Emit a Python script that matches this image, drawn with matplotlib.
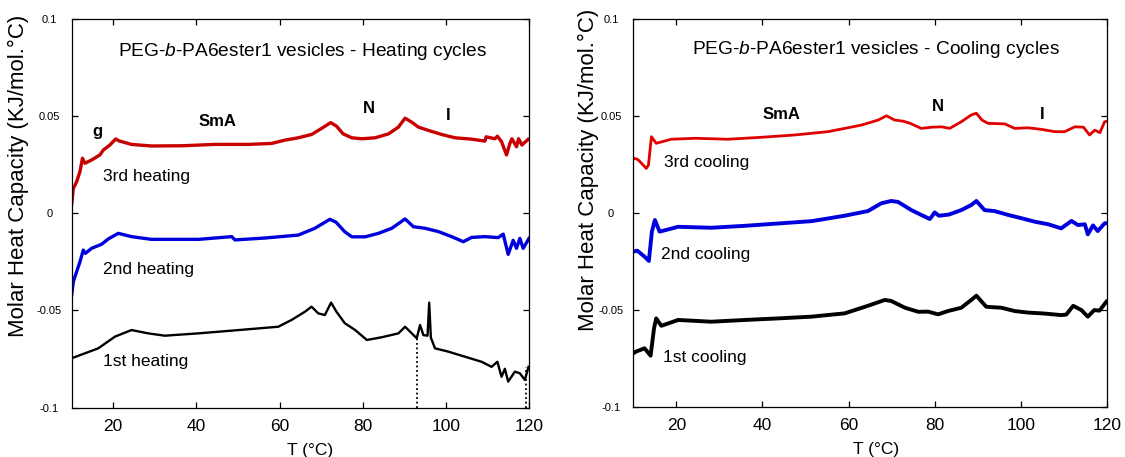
import matplotlib
matplotlib.use("Agg")
import matplotlib.pyplot as plt

plt.rcParams['font.family'] = ['Liberation Sans', 'DejaVu Sans']
plt.rcParams['axes.unicode_minus'] = False
plt.rcParams['mathtext.fontset'] = 'custom'
plt.rcParams['mathtext.rm'] = 'Liberation Sans'
plt.rcParams['mathtext.it'] = 'Liberation Sans:italic'

# ---------------- data: heating cycles ----------------
h3_T = [10.0, 10.4, 11.2, 12.0, 12.6, 13.2, 14.8, 16.8, 17.6, 19.2, 20.6, 21.4, 24.4, 29.2, 36.5,
        44.5, 52.5, 58.1, 61.3, 64.5, 67.7, 70.1, 72.3, 73.7, 75.3, 77.4, 79.8, 83.0, 86.2, 88.6,
        90.2, 91.8, 93.4, 95.8, 99.0, 102.2, 106.2, 109.4, 109.7, 111.8, 112.4, 113.4, 114.6,
        115.4, 115.9, 117.0, 117.5, 118.3, 119.8]
h3_Cp = [0.0045, 0.0127, 0.0161, 0.0213, 0.0282, 0.0256, 0.0273, 0.0299, 0.0324, 0.0350, 0.0381,
         0.0371, 0.0353, 0.0345, 0.0346, 0.0353, 0.0353, 0.0358, 0.0375, 0.0387, 0.0404, 0.0435,
         0.0465, 0.0447, 0.0407, 0.0387, 0.0382, 0.0387, 0.0407, 0.0442, 0.0488, 0.0467, 0.0442,
         0.0425, 0.0404, 0.0387, 0.0380, 0.0370, 0.0392, 0.0382, 0.0395, 0.0367, 0.0299, 0.0358,
         0.0382, 0.0341, 0.0382, 0.0350, 0.0379]

h2_T = [10.0, 10.4, 11.2, 12.0, 12.8, 13.3, 14.8, 17.2, 18.8, 21.2, 24.4, 29.2, 40.5, 48.5, 49.3,
        56.5, 64.5, 68.5, 72.1, 73.6, 75.7, 77.4, 80.6, 83.8, 87.0, 90.2, 92.2, 95.0, 98.2, 101.4,
        104.2, 106.2, 109.4, 112.6, 113.8, 115.0, 116.2, 117.0, 117.8, 118.6, 120.0]
h2_Cp = [-0.0421, -0.0352, -0.0301, -0.0250, -0.0190, -0.0207, -0.0181, -0.0160, -0.0133, -0.0104,
         -0.0121, -0.0135, -0.0135, -0.0121, -0.0138, -0.0128, -0.0113, -0.0078, -0.0032, -0.0047,
         -0.0096, -0.0122, -0.0122, -0.0104, -0.0078, -0.0030, -0.0070, -0.0078, -0.0095, -0.0121,
         -0.0147, -0.0125, -0.0121, -0.0126, -0.0108, -0.0212, -0.0140, -0.0181, -0.0130, -0.0181,
         -0.0130]

h1_T = [10.0, 16.4, 20.4, 24.4, 28.4, 32.4, 40.5, 48.5, 59.7, 62.9, 66.1, 67.7, 69.3, 70.9, 72.4,
        73.7, 75.7, 78.2, 81.0, 84.6, 88.6, 90.2, 91.8, 93.0, 93.8, 94.6, 95.6, 96.0, 96.4, 97.4,
        100.6, 104.6, 108.6, 111.0, 112.4, 113.4, 114.2, 115.0, 116.6, 117.8, 119.0, 119.9]
h1_Cp = [-0.0746, -0.0695, -0.0635, -0.0601, -0.0618, -0.0630, -0.0618, -0.0604, -0.0584, -0.0549,
         -0.0507, -0.0481, -0.0515, -0.0524, -0.0460, -0.0507, -0.0566, -0.0601, -0.0652, -0.0638,
         -0.0618, -0.0584, -0.0618, -0.0643, -0.0575, -0.0627, -0.0630, -0.0460, -0.0640, -0.0695,
         -0.0712, -0.0738, -0.0764, -0.0790, -0.0764, -0.0841, -0.0800, -0.0866, -0.0815, -0.0823,
         -0.0857, -0.0790]
h1_drop_T = [93.0, 119.3]
h1_drop_top = [-0.0643, -0.0790]

# ---------------- data: cooling cycles ----------------
c3_T = [10.0, 10.9, 11.2, 13.0, 13.5, 14.2, 15.3, 18.8, 24.3, 32.0, 39.7, 47.5, 55.2, 63.0, 66.9,
        68.8, 70.7, 72.7, 74.3, 76.9, 79.3, 81.6, 83.5, 86.2, 88.5, 89.7, 91.0, 92.4, 96.3, 98.6,
        101.7, 104.8, 107.9, 110.2, 112.6, 114.6, 116.0, 117.2, 118.4, 119.5, 120.0]
c3_Cp = [0.0280, 0.0275, 0.0270, 0.0228, 0.0245, 0.0391, 0.0357, 0.0378, 0.0383, 0.0378, 0.0388,
         0.0400, 0.0417, 0.0451, 0.0477, 0.0499, 0.0477, 0.0471, 0.0460, 0.0434, 0.0440, 0.0442,
         0.0434, 0.0468, 0.0503, 0.0512, 0.0477, 0.0460, 0.0457, 0.0434, 0.0437, 0.0429, 0.0417,
         0.0417, 0.0442, 0.0440, 0.0400, 0.0425, 0.0412, 0.0468, 0.0470]

c2_T = [10.0, 10.9, 12.6, 13.6, 14.3, 15.0, 16.1, 20.4, 28.1, 35.9, 43.6, 51.4, 59.1, 64.5, 67.6,
        69.9, 71.5, 74.6, 76.9, 78.9, 80.0, 81.0, 83.3, 86.2, 88.5, 89.7, 91.6, 93.9, 97.1, 100.2,
        103.3, 106.4, 109.4, 111.8, 113.3, 114.9, 115.6, 116.8, 117.9, 119.5, 120.0]
c2_Cp = [-0.0201, -0.0196, -0.0227, -0.0249, -0.0098, -0.0038, -0.0098, -0.0073, -0.0078, -0.0068,
         -0.0056, -0.0044, -0.0016, 0.0008, 0.0048, 0.0060, 0.0055, 0.0013, -0.0012, -0.0033,
         0.0001, -0.0016, -0.0010, 0.0013, 0.0039, 0.0060, 0.0013, 0.0008, -0.0012, -0.0029,
         -0.0047, -0.0060, -0.0081, -0.0043, -0.0064, -0.0060, -0.0112, -0.0066, -0.0095, -0.0055,
         -0.0055]

c1_T = [10.0, 10.6, 12.6, 14.0, 14.8, 15.3, 16.5, 20.4, 28.1, 35.9, 43.6, 51.4, 59.1, 64.5, 68.4,
        69.9, 73.1, 76.2, 78.5, 80.8, 83.1, 86.2, 88.5, 89.7, 92.0, 95.5, 98.6, 101.7, 105.6, 109.4,
        110.6, 112.2, 114.1, 115.6, 117.1, 118.3, 119.9]
c1_Cp = [-0.0725, -0.0716, -0.0699, -0.0737, -0.0596, -0.0545, -0.0583, -0.0553, -0.0562, -0.0553,
         -0.0545, -0.0536, -0.0519, -0.0480, -0.0450, -0.0455, -0.0490, -0.0511, -0.0510, -0.0524,
         -0.0507, -0.0490, -0.0450, -0.0428, -0.0485, -0.0490, -0.0507, -0.0515, -0.0520, -0.0528,
         -0.0525, -0.0480, -0.0502, -0.0536, -0.0502, -0.0505, -0.0459]

x_ticks = [20, 40, 60, 80, 100, 120]
y_ticks = [-0.1, -0.05, 0, 0.05, 0.1]
y_tick_labels = ['-0.1', '-0.05', '0', '0.05', '0.1']

RED_H = '#c80000'
RED_C = '#e00000'
BLUE = '#0000dd'

fig = plt.figure(figsize=(11.25, 4.57), dpi=100)
axL = fig.add_axes([0.0637, 0.1079, 0.4065, 0.8516])
axR = fig.add_axes([0.5630, 0.1100, 0.4208, 0.8495])

axL.plot(h3_T, h3_Cp, color=RED_H, lw=2.4)
axL.plot(h2_T, h2_Cp, color=BLUE, lw=2.4)
axL.plot(h1_T, h1_Cp, color='black', lw=1.7)
axL.vlines(h1_drop_T, [-0.1] * len(h1_drop_T), h1_drop_top, colors='black', lw=1.3,
           linestyles=(0, (1, 1.5)))

axR.plot(c3_T, c3_Cp, color=RED_C, lw=2.0)
axR.plot(c2_T, c2_Cp, color=BLUE, lw=2.8)
axR.plot(c1_T, c1_Cp, color='black', lw=2.8)

for ax in (axL, axR):
    ax.set_xlim(10, 120)
    ax.set_ylim(-0.1, 0.1)
    ax.set_xticks(x_ticks)
    ax.set_yticks(y_ticks)
    ax.set_yticklabels(y_tick_labels)
    ax.tick_params(direction='in', top=True, right=True, length=4, width=0.9)
    ax.tick_params(axis='x', labelsize=12.5, pad=8)
    ax.tick_params(axis='y', labelsize=8, pad=16)
    for lab in ax.get_yticklabels():
        lab.set_horizontalalignment('center')
    for s in ax.spines.values():
        s.set_linewidth(0.9)
    ax.set_xlabel('T (°C)', fontsize=12.5)
    ax.set_ylabel('Molar Heat Capacity (KJ/mol.°C)', fontsize=16)
    ax.yaxis.label.set_verticalalignment('center')

axL.xaxis.set_label_coords(0.522, -0.09)
axR.xaxis.set_label_coords(0.512, -0.09)
axL.yaxis.set_label_coords(-0.1174, 0.595)
axR.yaxis.set_label_coords(-0.094, 0.61)

axL.text(65.6, 0.0828, r'PEG-$\mathit{b}$-PA6ester1 vesicles - Heating cycles', fontsize=13.8,
         ha='center', va='center')
axR.text(66.3, 0.0838, r'PEG-$\mathit{b}$-PA6ester1 vesicles - Cooling cycles', fontsize=13.8,
         ha='center', va='center')

bold = dict(fontsize=12, fontweight='bold', ha='center', va='center')
axL.text(16.1, 0.0417, 'g', **bold)
axL.text(45.0, 0.0473, 'SmA', **bold)
axL.text(81.6, 0.0540, 'N', **bold)
axL.text(100.5, 0.0504, 'I', **bold)
axR.text(44.5, 0.0504, 'SmA', **bold)
axR.text(80.8, 0.0545, 'N', **bold)
axR.text(105.0, 0.0504, 'I', **bold)

lab = dict(fontsize=12.5, ha='left', va='center')
axL.text(17.5, 0.0186, '3rd heating', **lab)
axL.text(17.5, -0.0292, '2nd heating', **lab)
axL.text(17.5, -0.0765, '1st heating', **lab)
axR.text(17.1, 0.0256, '3rd cooling', **lab)
axR.text(16.4, -0.0218, '2nd cooling', **lab)
axR.text(16.8, -0.0744, '1st cooling', **lab)

fig.savefig('out.png', dpi=100)
